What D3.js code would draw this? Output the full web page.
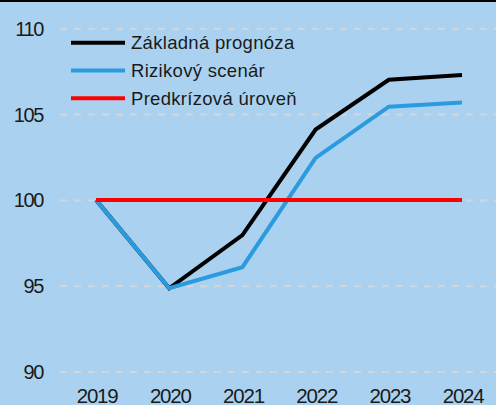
<!DOCTYPE html>
<html><head><meta charset="utf-8">
<script src="https://cdn.jsdelivr.net/npm/d3@7"></script>
<style>
html,body{margin:0;padding:0;background:#aad2f0;overflow:hidden}
text{font-family:"Liberation Sans",Arial,sans-serif;fill:#1a1a1a}
</style></head><body>
<svg id="c" width="496" height="405"></svg>
<script>
const years = [2019, 2020, 2021, 2022, 2023, 2024];
const baseline = [100, 94.85, 97.95, 104.1, 107.0, 107.28];
const risk = [100, 94.85, 96.08, 102.45, 105.43, 105.67];
const preCrisis = [100, 100, 100, 100, 100, 100];
const yTicks = [90, 95, 100, 105, 110];
const seriesNames = ["Základná prognóza", "Rizikový scenár", "Predkrízová úroveň"];
const seriesColors = ["#000000", "#2b9be0", "#ff0000"];

const W = 496, H = 405;
const svg = d3.select("#c");
svg.append("rect").attr("width", W).attr("height", H).attr("fill", "#aad2f0");
svg.append("rect").attr("x", 0).attr("y", 0).attr("width", W).attr("height", 2).attr("fill", "#000");

const x = d3.scalePoint().domain(years).range([96, 462]);
const y = d3.scaleLinear().domain([90, 110]).range([371.5, 28.3]);

// gridlines
const yAxis = d3.axisLeft(y).tickValues(yTicks).tickSize(-(W - 60)).tickPadding(20).tickFormat(d3.format("d"));
const ga = svg.append("g").attr("transform", "translate(60,0)").call(yAxis);
ga.select(".domain").remove();
ga.selectAll(".tick line").attr("stroke", "#d3d6d9").attr("stroke-width", 2).attr("stroke-dasharray", "7,7");
ga.selectAll(".tick text").attr("font-size", 20).attr("letter-spacing", "-1.4").attr("fill", "#1a1a1a").attr("dy", "0.35em").attr("x", -17);

// x axis
const xAxis = d3.axisBottom(x).tickSize(0).tickPadding(0);
const gx = svg.append("g").attr("transform", "translate(0,403)").call(xAxis);
gx.select(".domain").remove();
gx.selectAll(".tick text").attr("font-size", 20.5).attr("letter-spacing", "-1.2").attr("fill", "#1a1a1a").attr("y", 0).attr("dy", "0").attr("dx", "0.6");

const line = d3.line().x((d, i) => x(years[i])).y(d => y(d));
const data = [baseline, risk, preCrisis];
const cols = [seriesColors[0], seriesColors[1], seriesColors[2]];
data.forEach((s, k) => {
  svg.append("path").datum(s).attr("d", line).attr("fill", "none")
    .attr("stroke", cols[k]).attr("stroke-width", 4).attr("stroke-linejoin", "miter");
});

// legend
const lg = svg.append("g");
seriesNames.forEach((n, i) => {
  const yy = 42.7 + i * 27.8;
  lg.append("line").attr("x1", 71).attr("x2", 125).attr("y1", yy).attr("y2", yy)
    .attr("stroke", seriesColors[i]).attr("stroke-width", 4);
  lg.append("text").attr("x", 131).attr("y", yy).attr("dy", "0.36em")
    .attr("font-size", 18.5).attr("letter-spacing", "0.3").text(n);
});
</script></body></html>
